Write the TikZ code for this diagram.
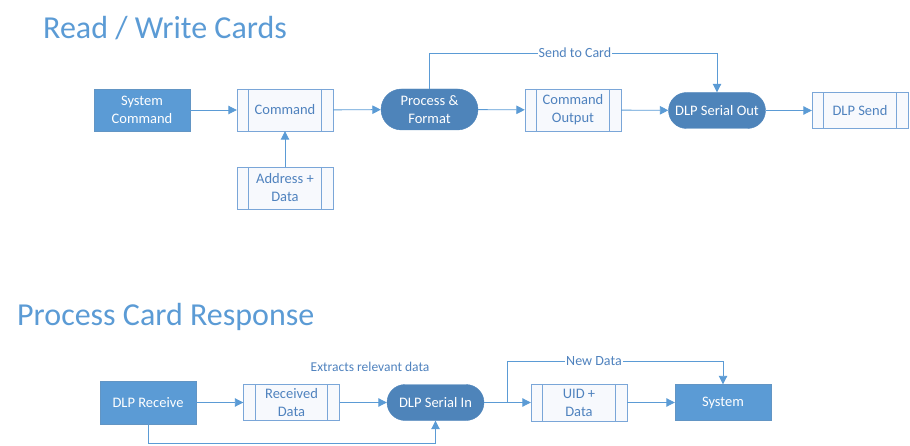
\documentclass[tikz,border=0pt]{standalone}
\usepackage{fontspec}
\setmainfont{Carlito}
\usetikzlibrary{arrows.meta}
\definecolor{lightblue}{HTML}{5B9BD5}
\definecolor{darkblue}{HTML}{4E84BA}
\definecolor{boxline}{HTML}{7AA6D8}
\definecolor{boxtext}{HTML}{4F82BE}
\definecolor{boxfill}{HTML}{F7F9FD}
\tikzset{
  fillbox/.style={draw=lightblue!80!gray, fill=lightblue, text=white, minimum width=96pt, align=center, font=\fontsize{14.5}{18}\selectfont, inner sep=0pt},
  ppbox/.style={draw=boxline, fill=boxfill, text=boxtext, minimum width=96pt, align=center, font=\fontsize{14.5}{18}\selectfont, inner sep=0pt},
  stadium/.style={draw=darkblue, fill=darkblue, text=white, minimum width=97pt, align=center, font=\fontsize{14.5}{18}\selectfont, inner sep=0pt},
  conn/.style={draw=lightblue, line width=0.9pt, -{Triangle[width=8.5pt,length=8.5pt]}},
  lbl/.style={text=boxtext, font=\fontsize{14}{16}\selectfont, inner sep=1pt},
  title/.style={text=lightblue, font=\fontsize{32}{36}\selectfont, inner sep=0pt, anchor=base west},
}
\begin{document}
\begin{tikzpicture}[x=1pt,y=-1pt]
\useasboundingbox (0,0) rectangle (910,446);
% titles
\node[title] (t1) at (43,39) {Read / Write Cards};
\node[title] (t2) at (17,325) {Process Card Response};
% top row
\node[fillbox, minimum height=42pt] (sys) at (142,110) {System\\Command};
\node[ppbox, minimum height=42pt] (cmd) at (285,110) {Command};
\node[ppbox, minimum height=42pt] (addr) at (285,188) {Address +\\Data};
\node[stadium, minimum height=41pt, rounded corners=20.5pt] (proc) at (429.5,109.5) {Process \&\\Format};
\node[ppbox, minimum height=42pt] (cout) at (573,110) {Command\\Output};
\node[stadium, minimum height=36pt, rounded corners=18pt] (sout) at (717,110.5) {DLP Serial Out};
\node[ppbox, minimum height=36pt] (send) at (860,110.5) {DLP Send};
% bottom row
\node[fillbox, minimum height=43pt] (recv) at (148,402.5) {DLP Receive};
\node[ppbox, minimum height=36pt] (rdata) at (291.5,402.5) {Received\\Data};
\node[stadium, minimum height=36pt, rounded corners=18pt] (sin) at (435.5,402.5) {DLP Serial In};
\node[ppbox, minimum height=37pt] (uid) at (579,402.5) {UID +\\Data};
\node[fillbox, minimum height=36pt] (system) at (723,402.5) {System};
% inner lines of predefined process boxes
\foreach \n in {cmd,addr,cout,send,rdata,uid}{
  \draw[boxline, line width=0.7pt] ([xshift=12pt]\n.north west) -- ([xshift=12pt]\n.south west);
  \draw[boxline, line width=0.7pt] ([xshift=-12pt]\n.north east) -- ([xshift=-12pt]\n.south east);
}
% top connectors
\draw[conn] (sys) -- (cmd);
\draw[conn] (addr) -- (cmd);
\draw[conn] (cmd) -- (proc);
\draw[conn] (proc) -- (cout);
\draw[conn] (cout) -- (sout);
\draw[conn] (sout) -- (send);
\coordinate (sc1) at (429.5,53);
\coordinate (sc2) at (717,53);
\draw[conn] (proc.north) -- (sc1) -- (sc2) -- (sout.north);
\node[lbl, fill=white] (sclbl) at (575,53) {Send to Card};
% bottom connectors
\draw[conn] (recv) -- (rdata);
\draw[conn] (rdata) -- (sin);
\draw[conn] (sin) -- (uid);
\draw[conn] (uid) -- (system);
\coordinate (b1) at (148,443.5);
\coordinate (b2) at (435.5,443.5);
\draw[conn] (recv.south) -- (b1) -- (b2) -- (sin.south);
\coordinate (br) at (507,402.5);
\coordinate (nd1) at (507,361.5);
\coordinate (nd2) at (723,361.5);
\draw[conn] (br) -- (nd1) -- (nd2) -- (system.north);
\node[lbl, fill=white] (ndlbl) at (594,361.5) {New Data};
\node[lbl, font=\fontsize{13.5}{15}\selectfont] (exlbl) at (370,367) {Extracts relevant data};
\end{tikzpicture}
\end{document}
